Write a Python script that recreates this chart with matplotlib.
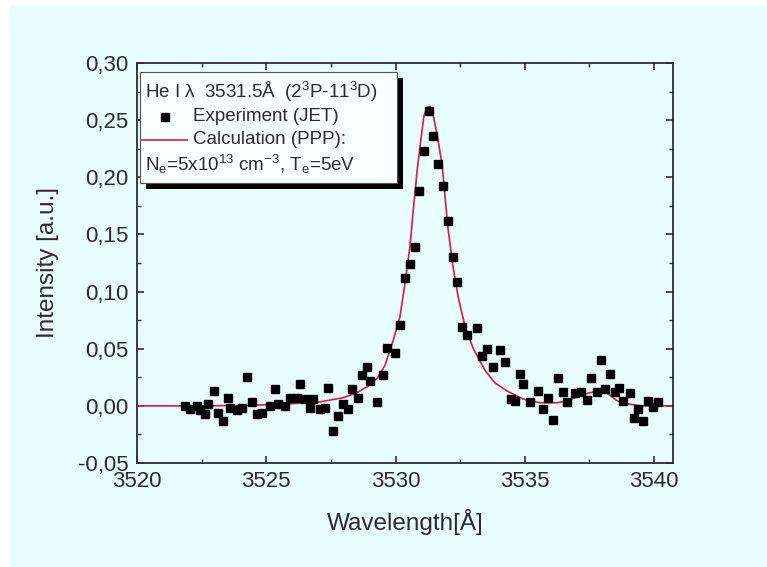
import matplotlib
matplotlib.use("Agg")
import matplotlib.pyplot as plt
from matplotlib.patches import Rectangle
from matplotlib.lines import Line2D
from matplotlib.ticker import MultipleLocator, FuncFormatter

plt.rcParams['font.family'] = ['Liberation Sans', 'DejaVu Sans']
plt.rcParams['mathtext.fontset'] = 'custom'
plt.rcParams['mathtext.rm'] = 'Liberation Sans'
plt.rcParams['mathtext.it'] = 'Liberation Sans:italic'

# ---- data ----
exp_x = [3521.86, 3522.05, 3522.32, 3522.44, 3522.63, 3522.75, 3522.98, 3523.13, 3523.33, 3523.52,
         3523.60, 3523.87, 3524.06, 3524.26, 3524.45, 3524.64, 3524.84, 3525.15, 3525.34, 3525.45,
         3525.73, 3525.92, 3526.19, 3526.31, 3526.50, 3526.69, 3526.81, 3527.08, 3527.27, 3527.39,
         3527.58, 3527.78, 3527.97, 3528.16, 3528.32, 3528.55, 3528.70, 3528.90, 3529.01, 3529.28,
         3529.52, 3529.67, 3529.98, 3530.17, 3530.37, 3530.56, 3530.75, 3530.91, 3531.10, 3531.30,
         3531.45, 3531.64, 3531.84, 3532.03, 3532.22, 3532.38, 3532.57, 3532.77, 3533.15, 3533.35,
         3533.54, 3533.77, 3534.04, 3534.24, 3534.47, 3534.62, 3534.82, 3534.93, 3535.20, 3535.51,
         3535.71, 3535.90, 3536.09, 3536.29, 3536.48, 3536.63, 3536.94, 3537.18, 3537.41, 3537.56,
         3537.79, 3537.95, 3538.10, 3538.30, 3538.49, 3538.65, 3538.80, 3539.07, 3539.23, 3539.38,
         3539.57, 3539.77, 3539.96, 3540.15]
exp_y = [0.000, -0.003, 0.000, -0.004, -0.007, 0.002, 0.013, -0.006, -0.013, 0.007,
         -0.002, -0.004, -0.002, 0.025, 0.003, -0.007, -0.006, 0.000, 0.015, 0.002,
         0.000, 0.007, 0.007, 0.019, 0.006, -0.002, 0.006, -0.003, -0.002, 0.016,
         -0.022, -0.009, 0.002, -0.003, 0.015, 0.007, 0.027, 0.034, 0.022, 0.003,
         0.027, 0.051, 0.046, 0.071, 0.112, 0.124, 0.139, 0.188, 0.223, 0.258,
         0.236, 0.212, 0.192, 0.162, 0.130, 0.108, 0.069, 0.062, 0.068, 0.044,
         0.050, 0.034, 0.049, 0.038, 0.006, 0.004, 0.028, 0.019, 0.003, 0.013,
         -0.003, 0.007, -0.012, 0.024, 0.012, 0.003, 0.011, 0.012, 0.005, 0.024,
         0.012, 0.040, 0.015, 0.028, 0.012, 0.016, 0.004, 0.011, -0.011, -0.003,
         -0.013, 0.004, -0.001, 0.003]

calc_x = [3520.00, 3522.44, 3524.37, 3525.92, 3527.08, 3527.97, 3528.51, 3528.90, 3529.28, 3529.59,
          3529.90, 3530.17, 3530.37, 3530.56, 3530.68, 3530.83, 3530.99, 3531.10, 3531.22, 3531.33,
          3531.45, 3531.61, 3531.80, 3531.91, 3532.03, 3532.22, 3532.42, 3532.69, 3533.00, 3533.46,
          3533.85, 3534.31, 3534.93, 3535.59, 3536.25, 3536.63, 3537.14, 3537.52, 3537.87, 3538.22,
          3538.57, 3538.96, 3539.46, 3540.70]
calc_y = [0.000, 0.000, 0.0004, 0.0018, 0.0035, 0.0071, 0.0115, 0.0168, 0.0239, 0.0354,
          0.0566, 0.0779, 0.108, 0.140, 0.170, 0.205, 0.235, 0.254, 0.261, 0.262,
          0.255, 0.237, 0.211, 0.184, 0.155, 0.122, 0.0956, 0.069, 0.0504, 0.031,
          0.020, 0.013, 0.006, 0.0027, 0.0027, 0.0044, 0.0088, 0.0115, 0.0133, 0.0106,
          0.0044, 0.0018, 0.0, 0.0]

x_label = "Wavelength[Å]"
y_label = "Intensity [a.u.]"
legend_title = "He I λ  3531.5Å  (2$^3$P-11$^3$D)"
legend_exp = "Experiment (JET)"
legend_calc = "Calculation (PPP):"
legend_cond = "N$_\\mathrm{e}$=5x10$^{13}$ cm$^{-3}$, T$_\\mathrm{e}$=5eV"

# ---- figure ----
W, H = 767, 567
fig = plt.figure(figsize=(W / 100, H / 100), dpi=100)
fig.patch.set_facecolor('white')
bg = '#e8fdff'
fig.patches.append(Rectangle((10 / W, 0), (W - 10) / W, (H - 6) / H,
                             transform=fig.transFigure, facecolor=bg, edgecolor='none', zorder=-10))

def fx(px):
    return px / W

def fy(py):
    return 1 - py / H

ax = fig.add_axes([fx(137), fy(463), (673 - 137) / W, (463 - 63) / H])
ax.set_facecolor(bg)

txtcol = '#2b2b2b'
spcol = '#2e2e2e'

ax.plot(calc_x, calc_y, color='#e8163c', lw=1.2, zorder=2)
ax.plot(exp_x, exp_y, linestyle='none', marker='s', ms=6.3, color='black', zorder=3)

ax.set_xlim(3520, 3540.73)
ax.set_ylim(-0.05, 0.30)
ax.xaxis.set_major_locator(MultipleLocator(5))
ax.xaxis.set_minor_locator(MultipleLocator(2.5))
ax.yaxis.set_major_locator(MultipleLocator(0.05))
ax.yaxis.set_minor_locator(MultipleLocator(0.025))
ax.yaxis.set_major_formatter(FuncFormatter(lambda v, p: f"{v:.2f}".replace('.', ',').replace('-0,00', '0,00')))
ax.tick_params(which='both', direction='in', top=True, right=True, colors=spcol, labelcolor=txtcol)
ax.tick_params(which='major', length=5, width=1.2, labelsize=16, pad=6)
ax.tick_params(which='minor', length=3, width=1.0)
for s in ax.spines.values():
    s.set_color(spcol)
    s.set_linewidth(1.3)

ax.set_xlabel(x_label, fontsize=17.5, color=txtcol, labelpad=12)
ax.set_ylabel(y_label, fontsize=17.5, color=txtcol, labelpad=14)

# ---- legend box (manual, with drop shadow) ----
lx0, ly0, lx1, ly1 = 140, 72, 397, 183
sh = 6
fig.patches.append(Rectangle((fx(lx0 + sh), fy(ly1 + sh)), (lx1 - lx0) / W, (ly1 - ly0) / H,
                             transform=fig.transFigure, facecolor='black', edgecolor='none', zorder=5))
fig.patches.append(Rectangle((fx(lx0), fy(ly1)), (lx1 - lx0) / W, (ly1 - ly0) / H,
                             transform=fig.transFigure, facecolor='#f7ffff', edgecolor='#555555',
                             lw=0.8, zorder=6))
fs_leg = 13.5
fig.text(fx(145), fy(92), legend_title, fontsize=fs_leg, color=txtcol, va='center', ha='left', zorder=7)
fig.add_artist(Line2D([fx(165)], [fy(117)], marker='s', ms=6.3, color='black', linestyle='none', zorder=7))
fig.text(fx(193), fy(117), legend_exp, fontsize=fs_leg, color=txtcol, va='center', ha='left', zorder=7)
fig.add_artist(Line2D([fx(142), fx(187)], [fy(140), fy(140)], color='#e8163c', lw=1.2, zorder=7))
fig.text(fx(193), fy(140), legend_calc, fontsize=fs_leg, color=txtcol, va='center', ha='left', zorder=7)
fig.text(fx(145), fy(164), legend_cond, fontsize=fs_leg, color=txtcol, va='center', ha='left', zorder=7)

fig.savefig('out.png', dpi=100, facecolor=fig.get_facecolor())
